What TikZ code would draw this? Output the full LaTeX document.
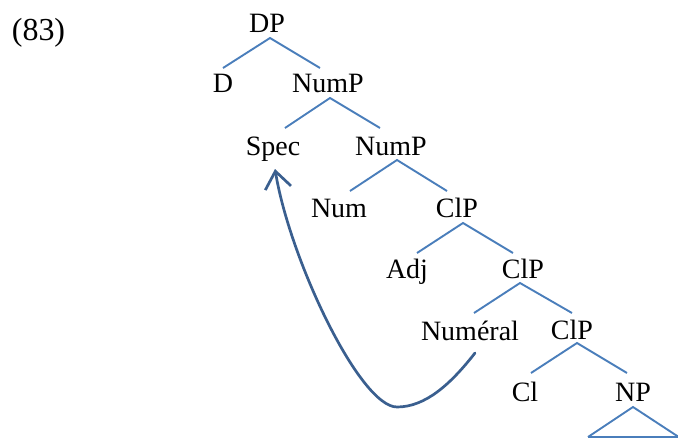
\documentclass[tikz,border=0pt]{standalone}
\usepackage{fontspec}
\setmainfont{Liberation Serif}
\usetikzlibrary{calc,arrows.meta}
\definecolor{treeblue}{HTML}{4A7EBB}
\definecolor{arrowblue}{HTML}{3A5F8F}
\begin{document}
\begin{tikzpicture}[x=1pt,y=-1pt,
  lab/.style={anchor=base,inner sep=0pt,font=\fontsize{28}{30}\selectfont},
  branch/.style={draw=treeblue,line width=1.9pt},
  move/.style={draw=arrowblue,line width=2.7pt,line cap=round,-{Straight Barb[length=17pt,width=26pt]}}]
\useasboundingbox (0,0) rectangle (678,437);
\node[anchor=base,inner sep=0pt,font=\fontsize{32}{34}\selectfont] (ex) at (38.5,40) {(83)};
\node[lab] (dp) at (267,32) {DP};
\node[lab] (d) at (223,92) {D};
\node[lab] (nump1) at (328,92) {NumP};
\node[lab] (spec) at (273,155) {Spec};
\node[lab] (nump2) at (391,155) {NumP};
\node[lab] (num) at (339,217) {Num};
\node[lab] (clp1) at (457,217) {ClP};
\node[lab] (adj) at (407,278) {Adj};
\node[lab] (clp2) at (523,278) {ClP};
\node[lab] (numeral) at (470,340) {Numéral};
\node[lab] (clp3) at (572,339) {ClP};
\node[lab] (cl) at (525,401) {Cl};
\node[lab] (np) at (633,401) {NP};
% branches
\draw[branch] ($(d.base)+(0,-24)$) -- ($(dp.base)+(3,6)$) -- ($(nump1.base)+(-8,-24)$);
\draw[branch] ($(spec.base)+(12,-27)$) -- ($(nump1.base)+(2,6)$) -- ($(nump2.base)+(-11,-27)$);
\draw[branch] ($(num.base)+(11,-26)$) -- ($(nump2.base)+(6,5)$) -- ($(clp1.base)+(-10,-26)$);
\draw[branch] ($(adj.base)+(10,-25)$) -- ($(clp1.base)+(6,6)$) -- ($(clp2.base)+(-10,-25)$);
\draw[branch] ($(numeral.base)+(4,-27)$) -- ($(clp2.base)+(-3,5)$) -- ($(clp3.base)+(0,-26)$);
\draw[branch] ($(cl.base)+(6,-28)$) -- ($(clp3.base)+(5,4)$) -- ($(np.base)+(-6,-28)$);
\draw[branch] ($(np.base)+(-45,36)$) -- ($(np.base)+(0,6)$) -- ($(np.base)+(48,37.5)$);
\draw[branch,line width=1.2pt] ($(np.base)+(-45,36)$) -- ($(np.base)+(48,36)$);
% movement arrow
\coordinate (start) at ($(numeral.base)+(5,13)$);
\coordinate (low) at (397,407);
\coordinate (tip) at ($(spec.base)+(2,14)$);
\draw[move] (start) .. controls (450,385) and (425,407) .. (low) .. controls (360,407) and (290,260) .. (tip);
\end{tikzpicture}
\end{document}
